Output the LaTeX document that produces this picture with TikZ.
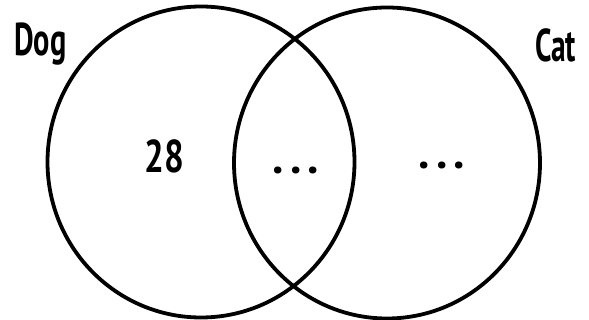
\documentclass[tikz,border=0pt]{standalone}
\usepackage{fontspec}
\setmainfont{PT Sans}
\tikzset{
  vset/.style={draw=black, line width=3.8pt},
  lbl/.style={font=\bfseries\fontsize{46}{50}\selectfont, inner sep=0pt, anchor=base west},
}
\newcommand{\tridots}{.\kern6.5pt.\kern6.5pt.}
\begin{document}
\begin{tikzpicture}[x=1pt,y=-1pt]
\useasboundingbox (0,0) rectangle (589,320);
\draw[vset] (201,162) ellipse [x radius=153.5, y radius=155.5];
\draw[vset] (387,163) ellipse [x radius=153, y radius=155.5];
\node[lbl] (dog) at (14,56) {\scalebox{0.66}[1]{Dog}};
\node[lbl] (cat) at (535,62) {\scalebox{0.64}[1]{Cat}};
\node[lbl] (n28) at (144,173) {\scalebox{0.76}[1]{28}};
\node[lbl] (mid) at (272,174) {\tridots};
\node[lbl] (right) at (418,169) {\tridots};
\end{tikzpicture}
\end{document}
